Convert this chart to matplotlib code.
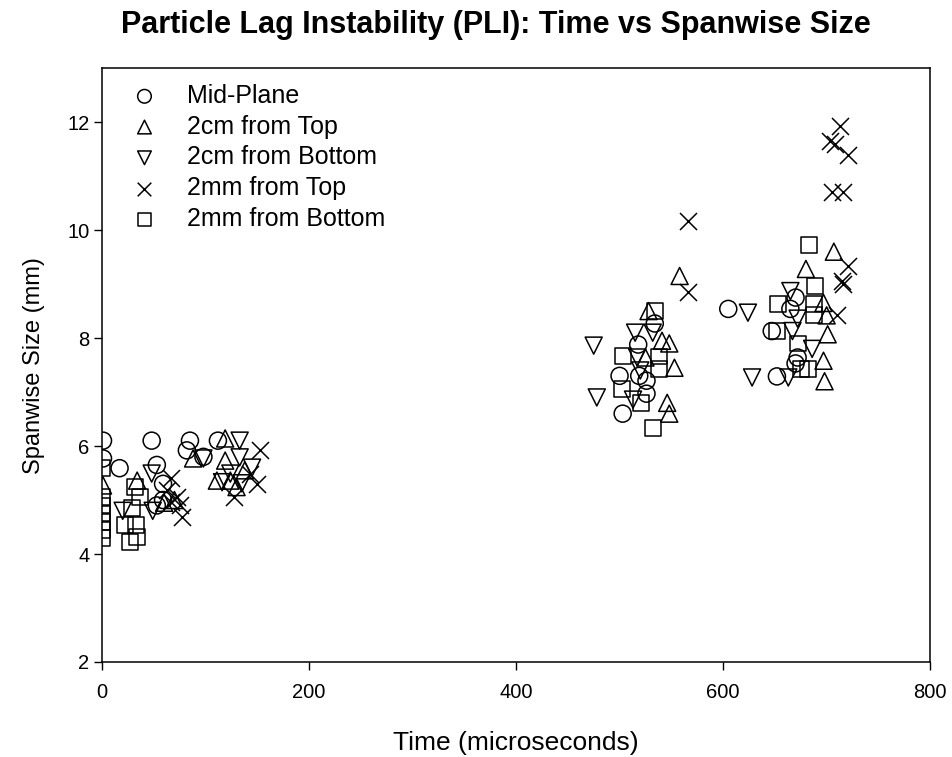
import matplotlib
matplotlib.use("Agg")
import matplotlib.pyplot as plt

plt.rcParams["font.family"] = ["Liberation Sans", "DejaVu Sans"]

# Mid-Plane
mid_t = [1, 1, 17, 48, 53, 85, 82, 112, 98, 59, 59, 53, 500, 503, 518, 519, 526, 526, 534,
         605, 647, 652, 665, 670, 670, 672]
mid_s = [6.1, 5.77, 5.59, 6.1, 5.65, 6.1, 5.92, 6.1, 5.8, 5.3, 5.0, 4.9, 7.3, 6.6, 7.88, 7.3, 7.21, 6.97, 8.27,
         8.54, 8.13, 7.29, 8.54, 8.75, 7.53, 7.64]

# 2cm from Top
top2cm_t = [1, 34, 88, 111, 119, 119, 124, 130, 138, 70, 60,
            525, 528, 541, 546, 548, 548, 553, 558,
            680, 697, 697, 698, 700, 701, 707]
top2cm_s = [5.27, 5.36, 5.77, 5.36, 5.73, 6.14, 5.36, 5.24, 5.55, 5.0, 4.95,
            7.64, 8.5, 7.95, 6.8, 7.9, 6.6, 7.45, 9.15,
            9.28, 8.65, 7.58, 7.2, 8.42, 8.07, 9.6]

# 2cm from Bottom
bot2cm_t = [20, 48, 49, 98, 116, 124, 133, 133, 135, 145,
            475, 478, 513, 515, 517, 520, 532,
            624, 628, 663, 665, 667, 672, 686]
bot2cm_s = [4.8, 5.49, 4.8, 5.77, 5.33, 5.49, 5.79, 6.1, 5.31, 5.6,
            7.86, 6.9, 6.86, 8.1, 7.64, 7.4, 8.1,
            8.47, 7.27, 7.27, 8.87, 8.13, 8.36, 7.8]

# 2mm from Top
top2mm_t = [63, 67, 67, 72, 75, 77, 128, 143, 150, 153,
            566, 566,
            703, 705, 708, 710, 713, 715, 716, 716, 721, 721]
top2mm_s = [5.18, 5.4, 4.96, 5.05, 4.9, 4.68, 5.05, 5.49, 5.3, 5.92,
            10.17, 8.86,
            11.65, 10.7, 11.6, 8.42, 11.93, 9.06, 10.7, 9.0, 11.4, 9.34]

# 2mm from Bottom
bot2mm_t = [0, 0, 0, 0, 0, 0, 0, 22, 27, 29, 32, 33, 34, 37,
            502, 503, 521, 532, 534, 538, 538,
            652, 653, 672, 675, 682, 683, 688, 688, 689]
bot2mm_s = [5.6, 5.05, 4.9, 4.75, 4.6, 4.45, 4.3, 4.53, 4.22, 4.86, 5.24, 4.53, 4.31, 5.05,
            7.05, 7.67, 6.79, 6.34, 8.5, 7.66, 7.43,
            8.13, 8.63, 7.9, 7.43, 7.43, 9.73, 8.63, 8.42, 8.97]

series = [
    ("Mid-Plane", mid_t, mid_s, "o"),
    ("2cm from Top", top2cm_t, top2cm_s, "^"),
    ("2cm from Bottom", bot2cm_t, bot2cm_s, "v"),
    ("2mm from Top", top2mm_t, top2mm_s, "x"),
    ("2mm from Bottom", bot2mm_t, bot2mm_s, "s"),
]

fig = plt.figure(figsize=(9.53, 7.57), dpi=100)
ax = fig.add_axes([0.107, 0.1255, 0.869, 0.7845])

for label, t, s, m in series:
    if m == "x":
        ax.scatter(t, s, marker=m, s=150, c="black", linewidths=1.1, label=label)
    elif m == "s":
        ax.scatter(t, s, marker=m, s=130, facecolors="none", edgecolors="black",
                   linewidths=1.1, label=label)
    else:
        ax.scatter(t, s, marker=m, s=150, facecolors="none", edgecolors="black",
                   linewidths=1.1, label=label)

ax.set_xlim(0, 800)
ax.set_ylim(2, 13)
ax.set_xticks([0, 200, 400, 600, 800])
ax.set_yticks([2, 4, 6, 8, 10, 12])
ax.tick_params(axis="both", direction="out", length=6, width=1, labelsize=14.5, top=False, right=False)
ax.tick_params(axis="x", pad=9)
ax.tick_params(axis="y", pad=3)
for sp in ax.spines.values():
    sp.set_linewidth(1.1)

ax.set_xlabel("Time (microseconds)", fontsize=19, labelpad=21)
ax.set_ylabel("Spanwise Size (mm)", fontsize=17, labelpad=16)
fig.text(0.52, 0.967, "Particle Lag Instability (PLI): Time vs Spanwise Size", fontsize=22,
         fontweight="bold", ha="center", va="center")

ax.legend(loc="upper left", frameon=False, fontsize=18, handletextpad=0.7,
          labelspacing=0.27, borderaxespad=0.3, markerscale=0.8, bbox_to_anchor=(0.0, 1.003))

fig.savefig("out.png", dpi=100)
